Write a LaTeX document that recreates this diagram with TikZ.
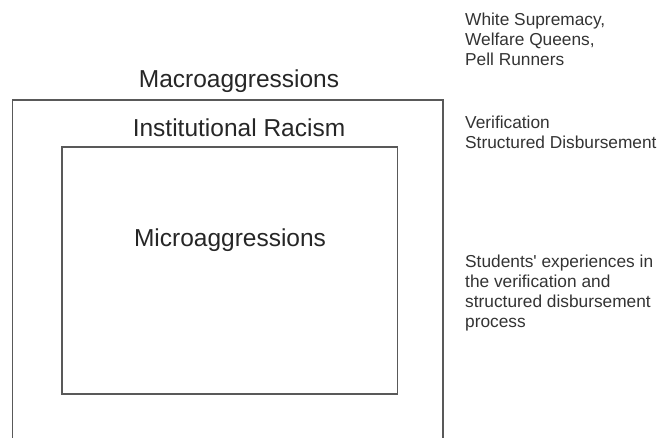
\documentclass[tikz,border=0pt]{standalone}
\usepackage{fontspec}
\setmainfont{Liberation Sans}
\begin{document}
\begin{tikzpicture}[x=1pt,y=-1pt,
  box/.style={draw=black!65,line width=1.3pt},
  big/.style={font=\fontsize{24.5}{28}\selectfont,text=black!85,inner sep=0pt},
  note/.style={font=\fontsize{17.3}{20}\selectfont,text=black!80,inner sep=0pt,align=left,anchor=north west}]
\useasboundingbox (0,0) rectangle (663,437);
\begin{scope}
\clip (0,0) rectangle (663,437);
\draw[box] (12.5,460) -- (12.5,100) -- (443,100) -- (443,460);
\end{scope}
\draw[box] (62,147) rectangle (397.5,394);
\node[big] (macro) at (239,81) {Macroaggressions};
\node[big] (inst) at (239,128) {Institutional Racism};
\node[big] (micro) at (230,240) {Microaggressions};
\node[note] (n1) at (465,13) {White Supremacy,\\Welfare Queens,\\Pell Runners};
\node[note] (n2) at (465,116) {Verification\\Structured Disbursement};
\node[note] (n3) at (465,255) {Students\textquotesingle{} experiences in\\the verification and\\structured disbursement\\process};
\end{tikzpicture}
\end{document}
